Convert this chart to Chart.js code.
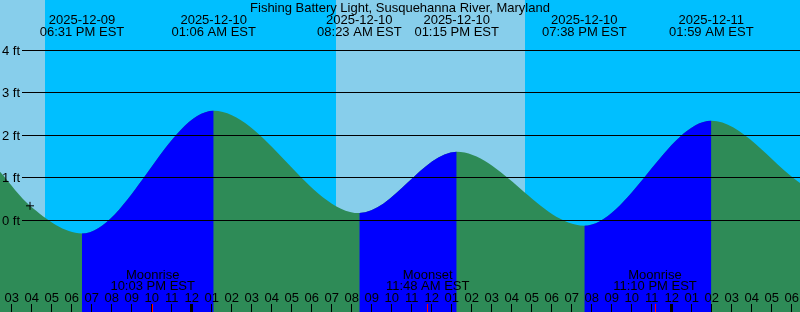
<!DOCTYPE html>
<html>
<head>
<meta charset="utf-8">
<script src="https://cdn.jsdelivr.net/npm/chart.js@4/dist/chart.umd.min.js"></script>
<style>
html,body{margin:0;padding:0;background:#fff;}
canvas{display:block;}
</style>
</head>
<body>
<canvas id="c" width="800" height="312"></canvas>
<script>
// ---- data ----
const chartTitle = 'Fishing Battery Light, Susquehanna River, Maryland';
const viewStart = '2025-12-09 14:25';
const viewEnd = '2025-12-11 06:25';

const tideTimes = ['2025-12-09 14:25', '2025-12-09 15:55', '2025-12-09 18:31', '2025-12-10 01:06',
                   '2025-12-10 08:23', '2025-12-10 13:15', '2025-12-10 19:38', '2025-12-11 01:59',
                   '2025-12-11 06:25'];
const tideFeet = [1.14, 0.34, -0.31, 2.58, 0.17, 1.61, -0.13, 2.34, 0.88];

const extremeTimes = ['2025-12-09 18:31', '2025-12-10 01:06', '2025-12-10 08:23',
                      '2025-12-10 13:15', '2025-12-10 19:38', '2025-12-11 01:59'];
const extremeDates = ['2025-12-09', '2025-12-10', '2025-12-10', '2025-12-10', '2025-12-10', '2025-12-11'];
const extremeLabels = ['06:31 PM EST', '01:06 AM EST', '08:23 AM EST', '01:15 PM EST', '07:38 PM EST', '01:59 AM EST'];

const dayStarts = ['2025-12-09 12:00', '2025-12-10 07:12'];
const dayEnds = ['2025-12-09 16:39', '2025-12-10 16:40'];

const moonTimes = ['2025-12-09 22:03', '2025-12-10 11:48', '2025-12-10 23:10'];
const moonEvents = ['Moonrise', 'Moonset', 'Moonrise'];
const moonLabels = ['10:03 PM EST', '11:48 AM EST', '11:10 PM EST'];

const markerTime = '2025-12-09 15:55';
const markerFeet = 0.34;

const feetTicks = [0, 1, 2, 3, 4];
const firstHour = '2025-12-09 15:00';
const hourLabels = ['03','04','05','06','07','08','09','10','11','12',
                    '01','02','03','04','05','06','07','08','09','10','11','12',
                    '01','02','03','04','05','06','07','08','09','10','11','12',
                    '01','02','03','04','05','06'];
const midnightTimes = ['2025-12-10 00:00', '2025-12-11 00:00'];

// ---- helpers ----
function toHours(s) {
  const [d, t] = s.split(' ');
  const [Y, M, D] = d.split('-').map(Number);
  const [h, m] = t.split(':').map(Number);
  const base = Date.UTC(2025, 11, 9, 15, 0);
  return (Date.UTC(Y, M - 1, D, h, m) - base) / 3600000;
}

const FONT = '13px "Liberation Sans", Arial, sans-serif';
const SKY_NIGHT = '#00BFFF', SKY_DAY = '#87CEEB', GREEN = '#2E8B57', BLUE = '#0000FF';

const tidePoints = tideTimes.map((t, i) => ({x: toHours(t), y: tideFeet[i]}));

const backgroundPlugin = {
  id: 'bg',
  beforeDatasetsDraw(chart) {
    const {ctx, chartArea: a, scales: {x}} = chart;
    ctx.save();
    ctx.fillStyle = SKY_NIGHT;
    ctx.fillRect(a.left, a.top, a.right - a.left, a.bottom - a.top);
    ctx.fillStyle = SKY_DAY;
    dayStarts.forEach((s, i) => {
      const x0 = Math.max(a.left, x.getPixelForValue(toHours(s)));
      const x1 = Math.min(a.right, x.getPixelForValue(toHours(dayEnds[i])));
      ctx.fillRect(Math.round(x0), a.top, Math.round(x1) - Math.round(x0), a.bottom - a.top);
    });
    ctx.restore();
  }
};

const overlayPlugin = {
  id: 'overlay',
  afterDatasetsDraw(chart) {
    const {ctx, chartArea: a, scales: {x, y}} = chart;
    ctx.save();
    ctx.font = FONT;
    ctx.fillStyle = '#000';
    ctx.strokeStyle = '#000';
    ctx.lineWidth = 1;
    // horizontal feet lines
    feetTicks.forEach(v => {
      const py = Math.floor(y.getPixelForValue(v)) + 0.5;
      ctx.beginPath();
      ctx.moveTo(22, py);
      ctx.lineTo(a.right, py);
      ctx.stroke();
      ctx.textAlign = 'left';
      ctx.textBaseline = 'alphabetic';
      ctx.fillText(v + ' ft', 2, Math.floor(y.getPixelForValue(v)) + 5);
    });
    // title
    ctx.textAlign = 'center';
    ctx.textBaseline = 'alphabetic';
    ctx.fillText(chartTitle, (a.left + a.right) / 2, 12);
    // extreme labels
    extremeTimes.forEach((t, i) => {
      const px = x.getPixelForValue(toHours(t));
      ctx.fillText(extremeDates[i], px, 24);
      ctx.fillText(extremeLabels[i], px, 35.5);
    });
    // moon labels
    moonTimes.forEach((t, i) => {
      const px = x.getPixelForValue(toHours(t));
      ctx.fillText(moonEvents[i], px, 278.5);
      ctx.fillText(moonLabels[i], px, 290);
    });
    // hour labels and ticks
    const h0 = toHours(firstHour);
    hourLabels.forEach((lab, i) => {
      const px = x.getPixelForValue(h0 + i);
      ctx.fillText(lab, px, 301.5);
      ctx.fillRect(Math.floor(px), 304, 1, 8);
    });
    midnightTimes.forEach(t => {
      const px = x.getPixelForValue(toHours(t));
      ctx.fillRect(Math.round(px) - 2, 304, 3, 8);
    });
    ctx.fillStyle = '#FF0000';
    moonTimes.forEach(t => {
      const px = x.getPixelForValue(toHours(t));
      ctx.fillRect(Math.floor(px), 304, 1, 8);
    });
    ctx.restore();
  }
};

new Chart(document.getElementById('c'), {
  type: 'line',
  data: {
    datasets: [
      {
        data: [{x: toHours(markerTime), y: markerFeet}],
        showLine: false,
        pointStyle: 'cross',
        pointRadius: 4,
        pointBorderWidth: 1,
        pointBorderColor: '#000',
        pointBackgroundColor: '#000',
        clip: false,
        order: 0
      },
      {
        // rising (flood) portions, drawn over the green fill
        data: tidePoints,
        cubicInterpolationMode: 'monotone',
        fill: 'start',
        backgroundColor: BLUE,
        borderColor: 'rgba(0,0,0,0)',
        borderWidth: 0,
        pointRadius: 0,
        segment: {
          backgroundColor: c => (c.p1.parsed.y > c.p0.parsed.y ? BLUE : 'rgba(0,0,0,0)')
        },
        order: 1
      },
      {
        data: tidePoints,
        cubicInterpolationMode: 'monotone',
        fill: 'start',
        backgroundColor: GREEN,
        borderColor: 'rgba(0,0,0,0)',
        borderWidth: 0,
        pointRadius: 0,
        order: 2
      }
    ]
  },
  options: {
    responsive: false,
    animation: false,
    events: [],
    layout: {padding: 0, autoPadding: false},
    plugins: {legend: {display: false}, tooltip: {enabled: false}, title: {display: false}},
    scales: {
      x: {type: 'linear', display: false, min: toHours(viewStart), max: toHours(viewEnd)},
      y: {type: 'linear', display: false, min: -2.158, max: 5.1835}
    }
  },
  plugins: [backgroundPlugin, overlayPlugin]
});
</script>
</body>
</html>
